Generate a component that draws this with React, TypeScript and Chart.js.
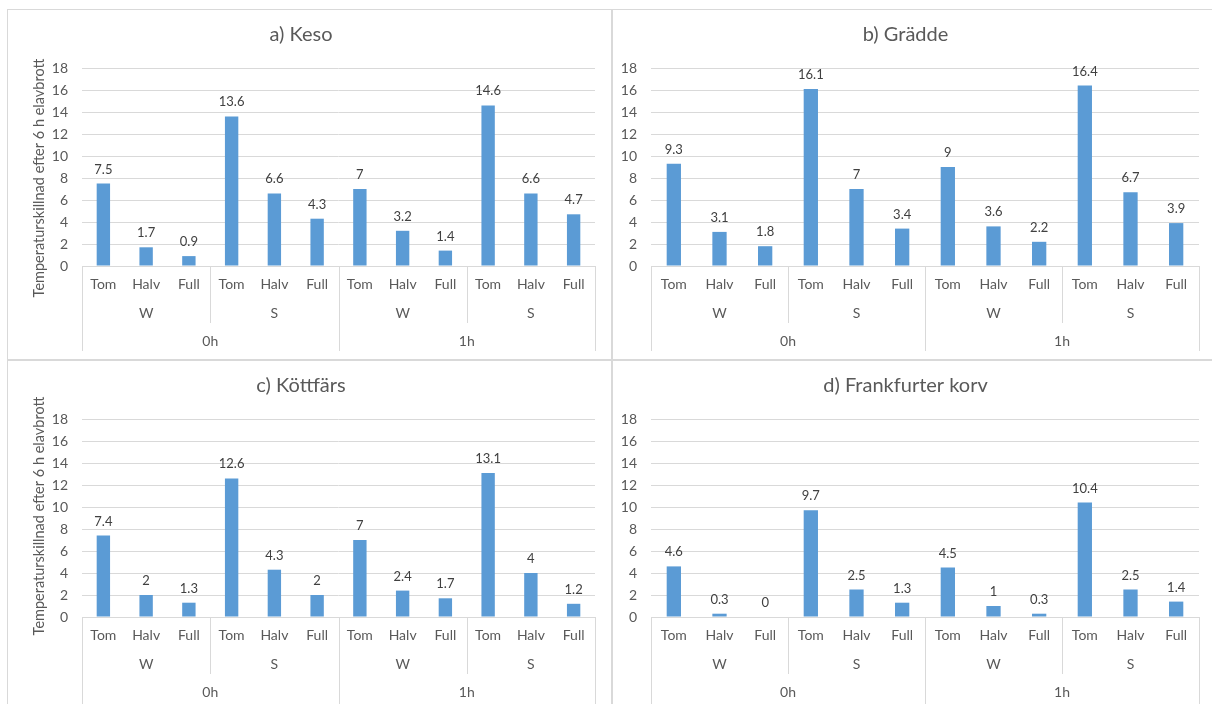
import React, { useEffect, useRef } from "react";
import { Chart, registerables } from "chart.js";

Chart.register(...registerables);

// Category levels of the multi-level x axis
const fillLevels = ["Tom", "Halv", "Full"];
const sides = ["W", "S"];
const times = ["0h", "1h"];

// Temperature difference after 6 h power outage, per product
const kesoValues = [7.5, 1.7, 0.9, 13.6, 6.6, 4.3, 7, 3.2, 1.4, 14.6, 6.6, 4.7];
const graddeValues = [9.3, 3.1, 1.8, 16.1, 7, 3.4, 9, 3.6, 2.2, 16.4, 6.7, 3.9];
const kottfarsValues = [7.4, 2, 1.3, 12.6, 4.3, 2, 7, 2.4, 1.7, 13.1, 4, 1.2];
const korvValues = [4.6, 0.3, 0, 9.7, 2.5, 1.3, 4.5, 1, 0.3, 10.4, 2.5, 1.4];

const yMin = 0;
const yMax = 18;
const yStep = 2;

const yAxisTitle = "Temperaturskillnad efter 6 h elavbrott";

const FONT = "Lato";
const TEXT = "#595959";
const LABEL_TEXT = "#404040";
const GRID = "#D9D9D9";
const BAR = "#5B9BD5";

const categoryLabels: string[] = [];
times.forEach(() => sides.forEach(() => fillLevels.forEach((f) => categoryLabels.push(f))));

// Draws the W/S and 0h/1h rows below the tick labels, with their separators,
// plus the rotated value-axis title
const groupAxisPlugin = {
  id: "groupAxis",
  afterDraw(chart: any, _args: any, opts: any) {
    const xs = chart.scales.x;
    const ctx = chart.ctx;
    const axisY = chart.chartArea.bottom;
    const per = fillLevels.length;
    const perTime = per * sides.length;
    const n = perTime * times.length;
    ctx.save();
    ctx.strokeStyle = GRID;
    ctx.lineWidth = 1;
    for (let i = 0; i <= n; i += per) {
      const px = Math.round(xs.getPixelForValue(i - 0.5)) + 0.5;
      const len = i % perTime === 0 ? opts.outerLen : opts.innerLen;
      ctx.beginPath();
      ctx.moveTo(px, axisY);
      ctx.lineTo(px, axisY + len);
      ctx.stroke();
    }
    ctx.fillStyle = TEXT;
    ctx.font = `${opts.fontSize}px ${FONT}`;
    ctx.textAlign = "center";
    ctx.textBaseline = "middle";
    times.forEach((t, ti) => {
      sides.forEach((s, si) => {
        const start = ti * perTime + si * per;
        const cx = xs.getPixelForValue(start + (per - 1) / 2);
        ctx.fillText(s, cx, axisY + opts.sideOffset);
      });
      const cx = xs.getPixelForValue(ti * perTime + (perTime - 1) / 2);
      ctx.fillText(t, cx, axisY + opts.timeOffset);
    });
    if (opts.yTitle) {
      ctx.translate(opts.yTitleX, opts.yTitleY);
      ctx.rotate(-Math.PI / 2);
      ctx.font = `14.5px ${FONT}`;
      ctx.fillText(opts.yTitle, 0, 0);
    }
    ctx.restore();
  },
};

// Value labels above each bar
const barValuePlugin = {
  id: "barValues",
  afterDatasetsDraw(chart: any) {
    const ctx = chart.ctx;
    const ds = chart.data.datasets[0];
    const meta = chart.getDatasetMeta(0);
    ctx.save();
    ctx.fillStyle = LABEL_TEXT;
    ctx.font = `13px ${FONT}`;
    ctx.textAlign = "center";
    ctx.textBaseline = "alphabetic";
    meta.data.forEach((bar: any, i: number) => {
      ctx.fillText(String(ds.data[i]), bar.x, bar.y - 10);
    });
    ctx.restore();
  },
};

type PanelProps = {
  title: string;
  values: number[];
  left: number;
  top: number;
  width: number;
  height: number;
  yWidth: number;
  padRight: number;
  yTitle: string | null;
  yTitleY: number;
  outerLen: number;
};

function Panel(p: PanelProps) {
  const ref = useRef<HTMLCanvasElement | null>(null);
  useEffect(() => {
    if (!ref.current) return;
    const chart = new Chart(ref.current, {
      type: "bar",
      data: {
        labels: categoryLabels,
        datasets: [
          {
            data: p.values,
            backgroundColor: BAR,
            borderWidth: 0,
            barPercentage: 0.313,
            categoryPercentage: 1,
          },
        ],
      },
      options: {
        responsive: false,
        animation: false,
        devicePixelRatio: 1,
        layout: { padding: { left: 0, right: p.padRight, top: 0, bottom: 0 } },
        plugins: {
          legend: { display: false },
          tooltip: { enabled: false },
          title: {
            display: true,
            text: p.title,
            color: TEXT,
            font: { family: FONT, size: 20, weight: "normal" },
            padding: { top: 14, bottom: 21 },
          },
          groupAxis: {
            outerLen: p.outerLen,
            innerLen: 57,
            sideOffset: 47,
            timeOffset: 75,
            fontSize: 14,
            yTitle: p.yTitle,
            yTitleX: 32,
            yTitleY: p.yTitleY,
          },
        } as any,
        scales: {
          x: {
            grid: { display: false, drawTicks: false },
            border: { display: true, color: GRID, width: 1 },
            ticks: {
              color: TEXT,
              font: { family: FONT, size: 14 },
              padding: 10,
              maxRotation: 0,
              autoSkip: false,
            },
            afterFit(scale: any) {
              scale.height = p.height - 257;
            },
          },
          y: {
            min: yMin,
            max: yMax,
            grid: { color: GRID, lineWidth: 1, drawTicks: false },
            border: { display: false },
            ticks: {
              stepSize: yStep,
              color: TEXT,
              font: { family: FONT, size: 14 },
              padding: 14,
            },
            afterFit(scale: any) {
              scale.width = p.yWidth;
            },
          },
        },
      },
      plugins: [groupAxisPlugin, barValuePlugin],
    });
    return () => chart.destroy();
  }, []);
  return (
    <canvas
      ref={ref}
      width={p.width}
      height={p.height}
      style={{ position: "absolute", left: p.left, top: p.top, width: p.width, height: p.height }}
    />
  );
}

const frame = (left: number, top: number, width: number, height: number) => (
  <div
    style={{
      position: "absolute",
      left,
      top,
      width,
      height,
      boxSizing: "border-box",
      border: `1px solid ${GRID}`,
      background: "#fff",
    }}
  />
);

export default function App() {
  return (
    <div
      style={{
        position: "absolute",
        left: 0,
        top: 0,
        width: 1212,
        height: 704,
        overflow: "hidden",
        background: "#fff",
      }}
    >
      {frame(7, 9, 605, 351)}
      {frame(612, 9, 602, 351)}
      {frame(7, 360, 605, 360)}
      {frame(612, 360, 602, 360)}
      <Panel title="a) Keso" values={kesoValues} left={7} top={9} width={605} height={351} yWidth={75} padRight={17} yTitle={yAxisTitle} yTitleY={169} outerLen={85} />
      <Panel title="b) Grädde" values={graddeValues} left={612} top={9} width={600} height={351} yWidth={39} padRight={13} yTitle={null} yTitleY={0} outerLen={85} />
      <Panel title="c) Köttfärs" values={kottfarsValues} left={7} top={360} width={605} height={351} yWidth={75} padRight={17} yTitle={yAxisTitle} yTitleY={156} outerLen={92} />
      <Panel title="d) Frankfurter korv" values={korvValues} left={612} top={360} width={600} height={351} yWidth={39} padRight={13} yTitle={null} yTitleY={0} outerLen={92} />
    </div>
  );
}
